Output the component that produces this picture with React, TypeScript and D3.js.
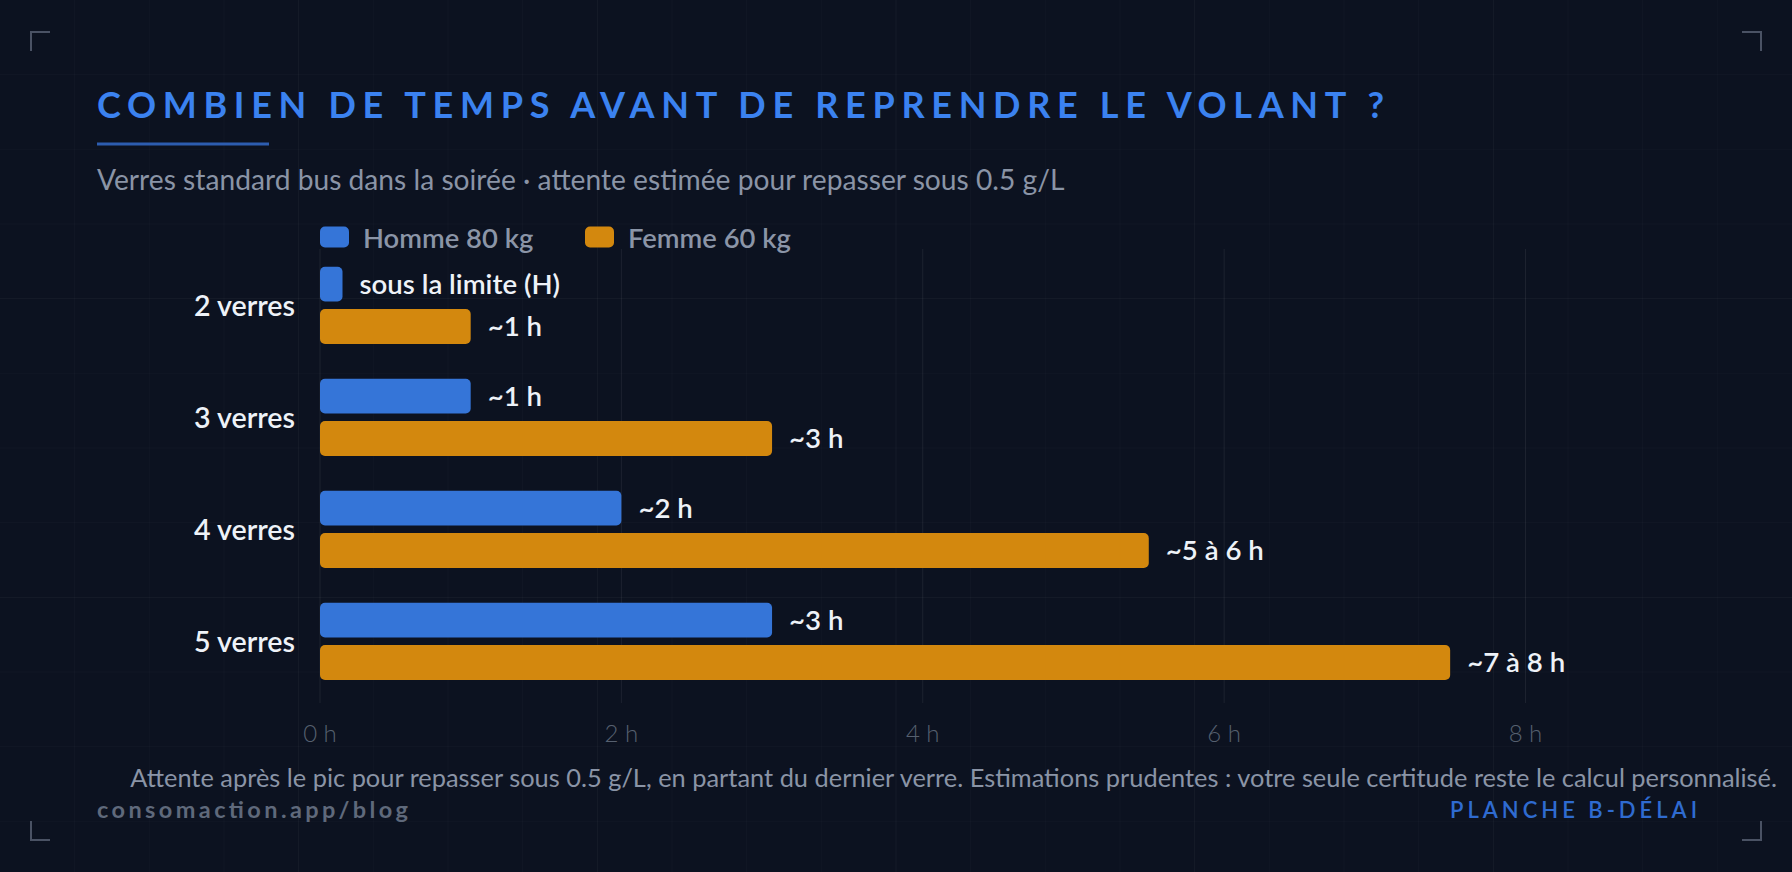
import React from 'react';
import * as d3 from 'd3';

// Waiting time (hours) before going back under 0.5 g/L, per number of standard drinks
const categories = ['2 verres', '3 verres', '4 verres', '5 verres'];
const seriesNames = ['Homme 80 kg', 'Femme 60 kg'];
const hommeHours = [0, 1, 2, 3];
const femmeHours = [1, 3, 5.5, 7.5];
const hommeLabels = ['sous la limite (H)', '~1 h', '~2 h', '~3 h'];
const femmeLabels = ['~1 h', '~3 h', '~5 à 6 h', '~7 à 8 h'];
const hourTicks = [0, 2, 4, 6, 8];

const W = 1792;
const H = 872;
const FONT = "Lato, 'Open Sans', sans-serif";
const BG = '#0c1220';
const BLUE = '#3575d8';
const ORANGE = '#d3880e';

export default function App() {
  const x = d3.scaleLinear().domain([0, 8]).range([320, 1525.5]);
  const y = d3.scaleBand<string>().domain(categories).range([249.3, 697.3]);
  const sub = d3
    .scaleBand<string>()
    .domain(seriesNames)
    .range([17.4, y.bandwidth() - 17.4])
    .paddingInner(0.18);
  const colors = d3.scaleOrdinal<string, string>().domain(seriesNames).range([BLUE, ORANGE]);

  const minStub = 22.5;
  const rows = categories.map((c, i) => ({
    cat: c,
    bars: [
      { s: seriesNames[0], v: hommeHours[i], label: hommeLabels[i] },
      { s: seriesNames[1], v: femmeHours[i], label: femmeLabels[i] },
    ],
  }));

  // faint blueprint grid behind everything
  const cell = W / 24;
  const vLines = d3.range(1, 24).map((k) => ({ p: k * cell, major: k % 4 === 0 }));
  const hLines = d3.range(1, Math.ceil(H / cell)).map((k) => ({ p: k * cell, major: k % 4 === 0 }));

  const corner = (cx: number, cy: number, dx: number, dy: number) =>
    `M${cx + dx * 19},${cy} L${cx},${cy} L${cx},${cy + dy * 19}`;

  return (
    <svg
      width={W}
      height={H}
      style={{ position: 'absolute', left: 0, top: 0, display: 'block' }}
      fontFamily={FONT}
    >
      <rect width={W} height={H} fill={BG} />
      <g>
        {vLines.map((l, i) => (
          <line
            key={'v' + i}
            x1={l.p}
            x2={l.p}
            y1={0}
            y2={H}
            stroke="#ffffff"
            strokeOpacity={l.major ? 0.045 : 0.022}
          />
        ))}
        {hLines.map((l, i) => (
          <line
            key={'h' + i}
            x1={0}
            x2={W}
            y1={l.p}
            y2={l.p}
            stroke="#ffffff"
            strokeOpacity={l.major ? 0.045 : 0.022}
          />
        ))}
      </g>

      {/* corner brackets */}
      <g stroke="#4a5264" strokeWidth={2} fill="none">
        <path d={corner(31, 32, 1, 1)} />
        <path d={corner(1761, 32, -1, 1)} />
        <path d={corner(31, 840, 1, -1)} />
        <path d={corner(1761, 840, -1, -1)} />
      </g>

      {/* heading */}
      <text
        x={97}
        y={118}
        fill="#3b82f0"
        fontSize={36}
        fontWeight={700}
        textLength={1287}
        lengthAdjust="spacing"
      >
        COMBIEN DE TEMPS AVANT DE REPRENDRE LE VOLANT ?
      </text>
      <rect x={97} y={142.5} width={172} height={3} fill="#2d5db0" />
      <text x={97} y={190} fill="#8a94a6" fontSize={28.2} fontWeight={400}>
        Verres standard bus dans la soirée · attente estimée pour repasser sous 0.5 g/L
      </text>

      {/* legend */}
      <g>
        {[
          { name: seriesNames[0], sx: 320 },
          { name: seriesNames[1], sx: 585 },
        ].map((d) => (
          <g key={d.name}>
            <rect x={d.sx} y={226.5} width={29} height={21} rx={5} fill={colors(d.name)} />
            <text
              x={d.sx + 43}
              y={237}
              dominantBaseline="central"
              fill="#8b95a7"
              fontSize={27.4}
              fontWeight={600}
            >
              {d.name}
            </text>
          </g>
        ))}
      </g>

      {/* hour gridlines */}
      <g>
        {hourTicks.map((t) => (
          <line
            key={t}
            x1={x(t)}
            x2={x(t)}
            y1={249}
            y2={703}
            stroke="#ffffff"
            strokeOpacity={0.07}
          />
        ))}
      </g>

      {/* bars */}
      <g>
        {rows.map((r) => (
          <g key={r.cat} transform={`translate(0,${y(r.cat)})`}>
            <text
              x={295}
              y={y.bandwidth() / 2}
              textAnchor="end"
              dominantBaseline="central"
              fill="#eef2f8"
              fontSize={28.6}
              fontWeight={600}
            >
              {r.cat}
            </text>
            {r.bars.map((b) => {
              const w = Math.max(x(b.v) - x(0), minStub);
              const by = sub(b.s) as number;
              return (
                <g key={b.s}>
                  <rect
                    x={x(0)}
                    y={by}
                    width={w}
                    height={sub.bandwidth()}
                    rx={5}
                    fill={colors(b.s)}
                  />
                  <text
                    x={x(0) + w + 17}
                    y={by + sub.bandwidth() / 2 - 1}
                    dominantBaseline="central"
                    fill="#eef2f8"
                    fontSize={27.6}
                    fontWeight={600}
                  >
                    {b.label}
                  </text>
                </g>
              );
            })}
          </g>
        ))}
      </g>

      {/* x axis labels */}
      <g>
        {hourTicks.map((t) => (
          <text
            key={t}
            x={x(t)}
            y={742}
            textAnchor="middle"
            fill="#56606f"
            fontSize={24}
            fontWeight={300}
          >
            {`${t} h`}
          </text>
        ))}
      </g>

      {/* footer */}
      <text x={1777} y={787} textAnchor="end" fill="#8a94a6" fontSize={25.4} fontWeight={400}>
        Attente après le pic pour repasser sous 0.5 g/L, en partant du dernier verre. Estimations
        prudentes : votre seule certitude reste le calcul personnalisé.
      </text>
      <text
        x={97}
        y={818}
        fill="#5f697b"
        fontSize={23.5}
        fontWeight={700}
        textLength={311}
        lengthAdjust="spacing"
      >
        consomaction.app/blog
      </text>
      <text
        x={1450}
        y={818}
        fill="#2f6bd0"
        fontSize={22}
        fontWeight={600}
        textLength={247}
        lengthAdjust="spacing"
      >
        PLANCHE B-DÉLAI
      </text>
    </svg>
  );
}
